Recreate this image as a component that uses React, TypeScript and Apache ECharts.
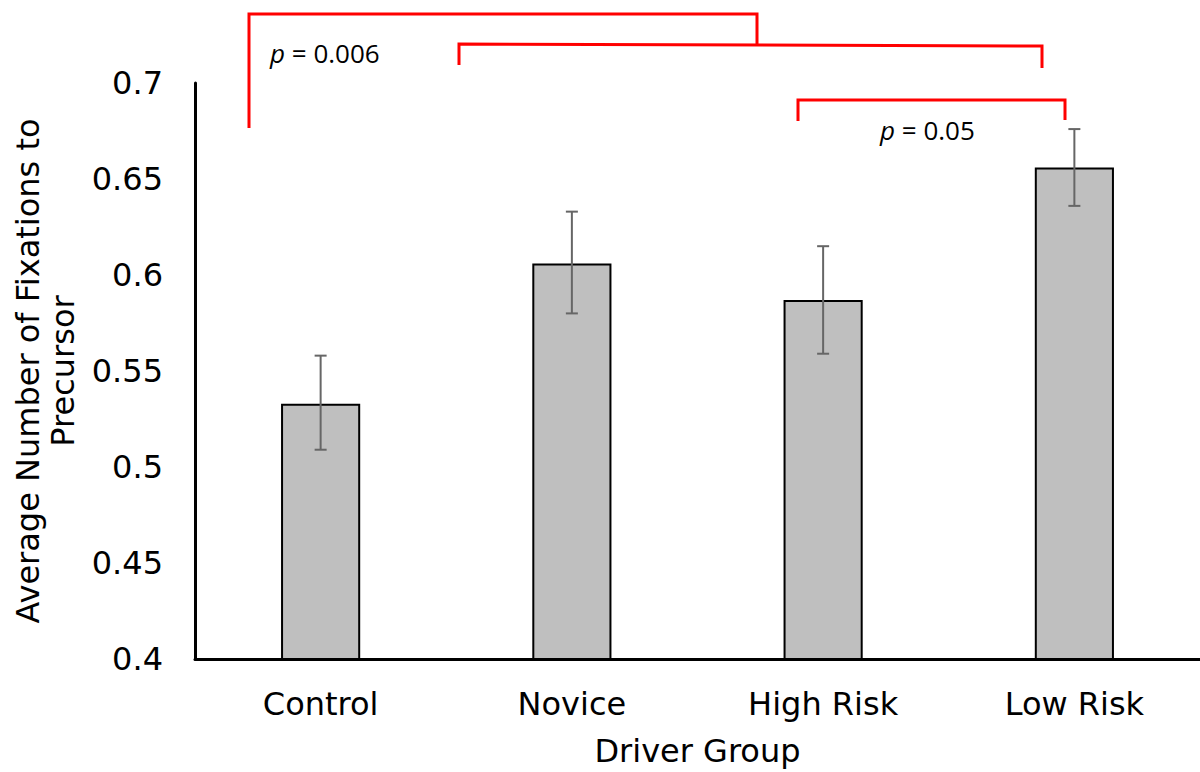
import React, { useEffect, useRef } from "react";
import * as echarts from "echarts";

const categories = ["Control", "Novice", "High Risk", "Low Risk"];
const means = [0.533, 0.606, 0.587, 0.656];
const errLow = [0.509, 0.58, 0.559, 0.636];
const errHigh = [0.558, 0.633, 0.615, 0.676];
const yTicks = { min: 0.4, max: 0.7, interval: 0.05 };
const pLabels = ["0.006", "0.05"];

export default function App() {
  const ref = useRef<HTMLDivElement>(null);
  useEffect(() => {
    const chart = echarts.init(ref.current!, null, { renderer: "svg" });
    const red = "#ff0000";
    const lineStyle = { stroke: red, lineWidth: 3, fill: null };
    const pText = (x: number, y: number, val: string) => ({
      type: "text",
      x,
      y,
      style: {
        text: "{i|p} = " + val,
        font: "26px 'Open Sans'",
        fill: "#000",
        verticalAlign: "middle",
        rich: {
          i: { fontStyle: "italic", fontSize: 26, fontFamily: "Open Sans" },
        },
      },
    });
    chart.setOption({
      animation: false,
      grid: { left: 195, right: 0, top: 83, bottom: 109 },
      xAxis: {
        type: "category",
        data: categories,
        axisLine: { lineStyle: { color: "#000", width: 3 } },
        axisTick: { show: false },
        axisLabel: {
          color: "#000",
          fontSize: 32,
          fontFamily: "DejaVu Sans",
          margin: 29,
        },
        name: "Driver Group",
        nameLocation: "middle",
        nameGap: 76,
        nameTextStyle: { color: "#000", fontSize: 32, fontFamily: "DejaVu Sans" },
      },
      yAxis: {
        type: "value",
        min: yTicks.min,
        max: yTicks.max,
        interval: yTicks.interval,
        axisLine: { show: true, lineStyle: { color: "#000", width: 3 } },
        axisTick: { show: false },
        splitLine: { show: false },
        axisLabel: {
          color: "#000",
          fontSize: 32,
          fontFamily: "DejaVu Sans",
          margin: 32,
          formatter: (v: number) => String(parseFloat(v.toFixed(2))),
        },
        name: "Average Number of Fixations to\nPrecursor",
        nameLocation: "middle",
        nameRotate: 90,
        nameGap: 112,
        nameTextStyle: {
          color: "#000",
          fontSize: 32,
          fontFamily: "DejaVu Sans",
          lineHeight: 35,
        },
      },
      series: [
        {
          type: "bar",
          data: means,
          barWidth: "31.5%",
          itemStyle: { color: "#bfbfbf", borderColor: "#000", borderWidth: 2 },
        },
        {
          type: "custom",
          data: categories.map((_, i) => [i, errLow[i], errHigh[i]]),
          z: 10,
          renderItem: (params: any, api: any) => {
            const i = api.value(0);
            const lo = api.coord([i, api.value(1)]);
            const hi = api.coord([i, api.value(2)]);
            const cap = 6;
            const st = { stroke: "#666666", lineWidth: 2 };
            return {
              type: "group",
              children: [
                { type: "line", shape: { x1: lo[0], y1: lo[1], x2: hi[0], y2: hi[1] }, style: st },
                { type: "line", shape: { x1: lo[0] - cap, y1: lo[1], x2: lo[0] + cap, y2: lo[1] }, style: st },
                { type: "line", shape: { x1: hi[0] - cap, y1: hi[1], x2: hi[0] + cap, y2: hi[1] }, style: st },
              ],
            };
          },
        },
      ],
      graphic: [
        { type: "polyline", shape: { points: [[249, 128], [249, 14], [757, 14], [757, 45]] }, style: lineStyle },
        { type: "polyline", shape: { points: [[459, 65], [459, 44], [1042, 46], [1042, 68]] }, style: lineStyle },
        { type: "polyline", shape: { points: [[798, 121], [798, 100], [1065, 100], [1065, 120]] }, style: lineStyle },
        pText(270, 53, pLabels[0]),
        pText(880, 130, pLabels[1]),
      ],
    });
    return () => chart.dispose();
  }, []);
  return <div ref={ref} style={{ width: 1200, height: 772, position: "absolute", left: 0, top: 0 }} />;
}
